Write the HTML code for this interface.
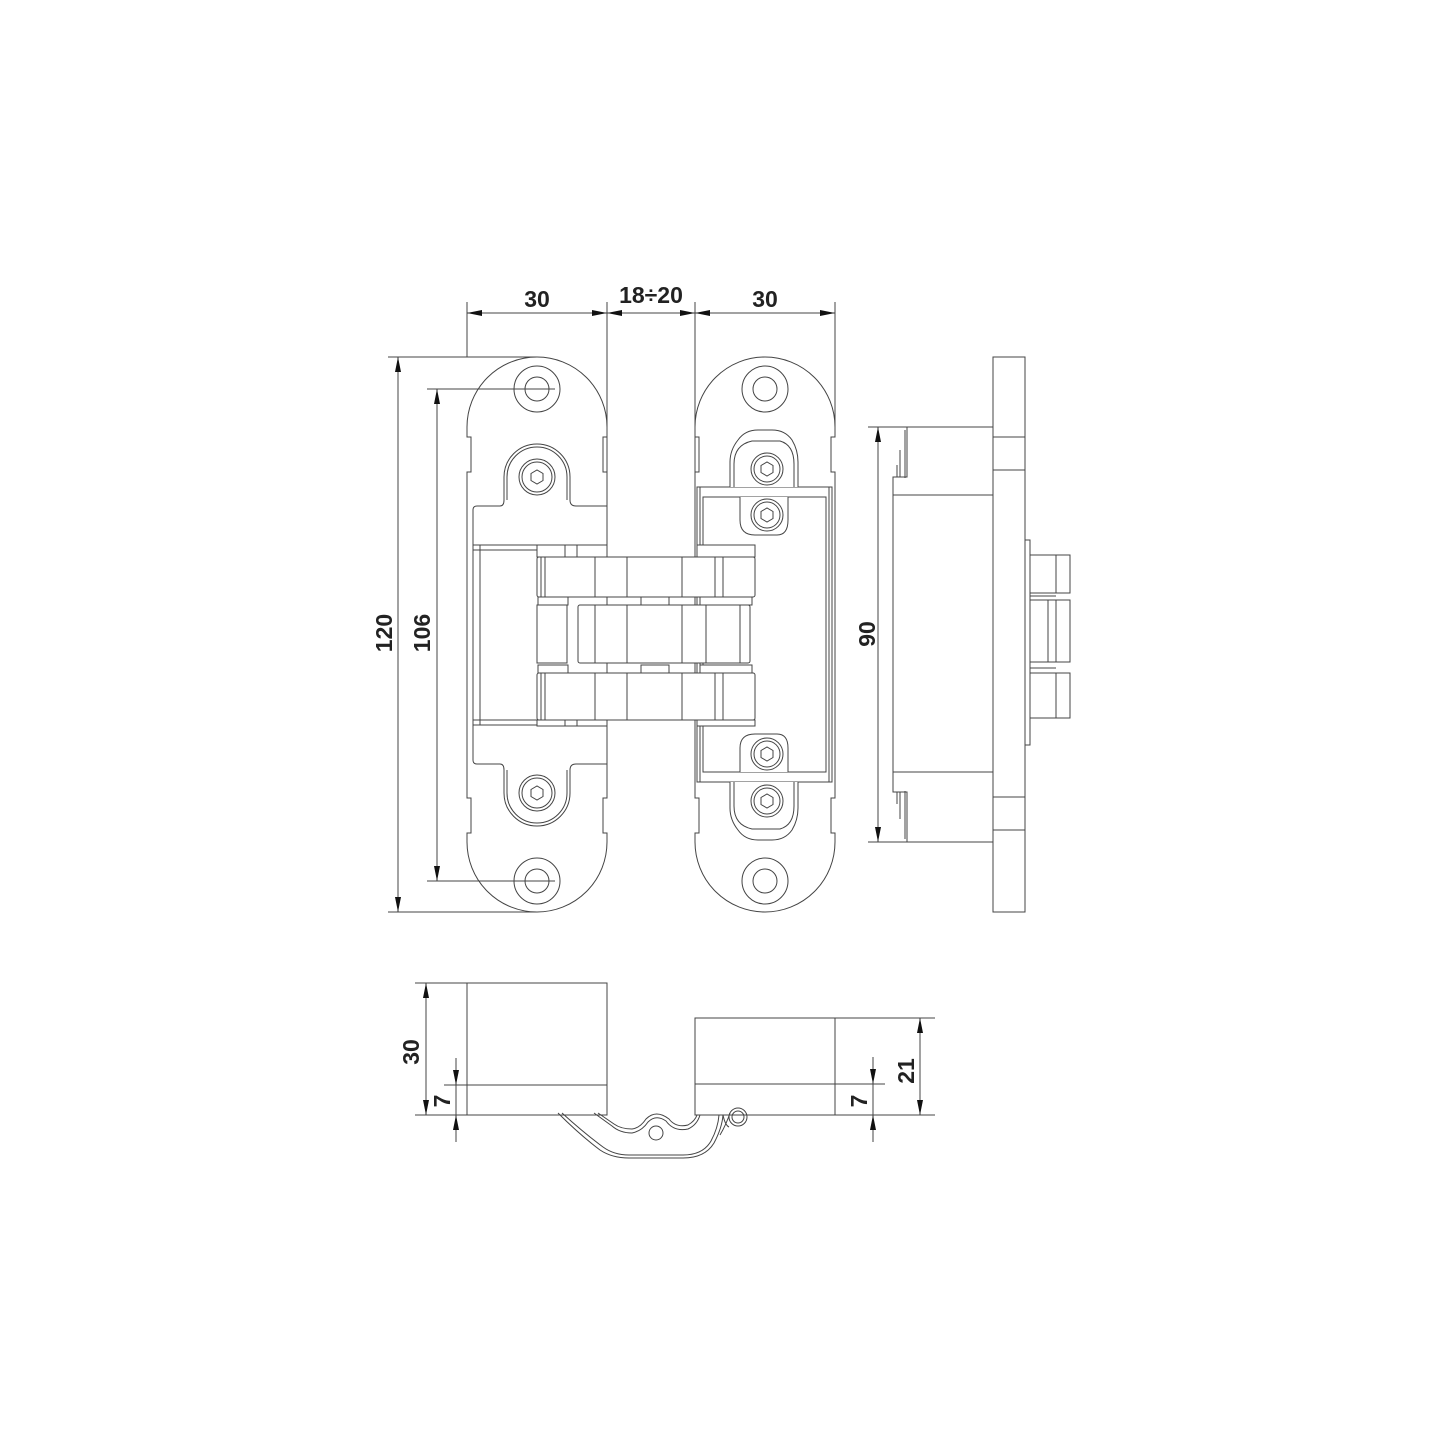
<!DOCTYPE html>
<html><head><meta charset="utf-8"><style>
html,body{margin:0;padding:0;background:#fff}
svg{display:block}
text{font-family:"Liberation Sans",sans-serif;font-weight:bold;fill:#222;font-size:23px}
</style></head><body>
<svg width="1445" height="1445" viewBox="0 0 1445 1445" xmlns="http://www.w3.org/2000/svg">
<defs>
<marker id="a" viewBox="0 0 15 6" refX="15" refY="3" markerWidth="15" markerHeight="6" markerUnits="userSpaceOnUse" orient="auto-start-reverse"><path d="M0,0L15,3L0,6Z" fill="#111"/></marker>
<g id="hex"><polygon points="-6,-3.5 0,-7 6,-3.5 6,3.5 0,7 -6,3.5" fill="none"/></g>
</defs>
<rect width="1445" height="1445" fill="#fff"/>
<g fill="none" stroke="#444" stroke-width="1">
<!-- top dimensions -->
<line x1="467" y1="302" x2="467" y2="357"/>
<line x1="607" y1="302" x2="607" y2="545"/>
<line x1="695" y1="302" x2="695" y2="487"/>
<line x1="835" y1="302" x2="835" y2="427"/>
<line x1="467" y1="313" x2="607" y2="313" marker-start="url(#a)" marker-end="url(#a)"/>
<line x1="607" y1="313" x2="695" y2="313" marker-start="url(#a)" marker-end="url(#a)"/>
<line x1="695" y1="313" x2="835" y2="313" marker-start="url(#a)" marker-end="url(#a)"/>
<!-- left dims -->
<line x1="388" y1="357" x2="537" y2="357"/>
<line x1="388" y1="912" x2="537" y2="912"/>
<line x1="427" y1="389" x2="555" y2="389"/>
<line x1="427" y1="881" x2="555" y2="881"/>
<line x1="398" y1="357" x2="398" y2="912" marker-start="url(#a)" marker-end="url(#a)"/>
<line x1="437" y1="389" x2="437" y2="881" marker-start="url(#a)" marker-end="url(#a)"/>

<!-- LEFT PLATE -->
<path d="M467,427 A70,70 0 0 1 607,427 V437 H603 V472 H607 V798 H603 V833 H607 V842 A70,70 0 0 1 467,842 V833 H471 V798 H467 V472 H471 V437 H467 Z"/>
<circle cx="537" cy="389" r="23"/><circle cx="537" cy="389" r="12"/>
<circle cx="537" cy="881" r="23"/><circle cx="537" cy="881" r="12"/>
<path d="M473,545 V510 Q473,506 477,506 H500 Q504,506 504,500 V477 A33,33 0 0 1 570,477 V500 Q570,506 576,506 H607"/>
<path d="M507,500 V477 A30,30 0 0 1 567,477 V500"/>
<circle cx="537" cy="477" r="18"/><circle cx="537" cy="477" r="15"/>
<use href="#hex" x="537" y="477"/>
<path d="M473,725 V760 Q473,764 477,764 H500 Q504,764 504,770 V793 A33,33 0 0 0 570,793 V770 Q570,764 576,764 H607"/>
<path d="M507,770 V793 A30,30 0 0 0 567,793 V770"/>
<circle cx="537" cy="793" r="18"/><circle cx="537" cy="793" r="15"/>
<use href="#hex" x="537" y="793"/>
<rect x="473" y="545" width="134" height="180"/>
<line x1="480" y1="545" x2="480" y2="725"/>
<line x1="473" y1="550" x2="537" y2="550"/>
<line x1="473" y1="720" x2="537" y2="720"/>

<!-- RIGHT PLATE -->
<path d="M695,427 A70,70 0 0 1 835,427 V437 H831 V472 H835 V798 H831 V833 H835 V842 A70,70 0 0 1 695,842 V833 H699 V798 H695 V472 H699 V437 H695 Z"/>
<circle cx="765" cy="389" r="23"/><circle cx="765" cy="389" r="12"/>
<circle cx="765" cy="881" r="23"/><circle cx="765" cy="881" r="12"/>
<rect x="697" y="487" width="135" height="295"/>
<rect x="703" y="497" width="123" height="275"/>
<line x1="700" y1="487" x2="700" y2="782"/>
<line x1="829" y1="487" x2="829" y2="782"/>
<!-- top cam -->
<path d="M730,487 V462 Q730,450 738,440 Q745,430 758,430 H772 Q785,430 792,440 Q798,450 798,462 V487" fill="#fff"/>
<path d="M734,487 V464 Q734,445 752,441 H780 Q794,445 794,464 V487"/>
<path d="M740,497 V520 Q740,535 755,535 H777 Q788,535 788,520 V497" fill="#fff"/>
<circle cx="767" cy="469" r="16" fill="#fff"/><circle cx="767" cy="469" r="13"/><use href="#hex" x="767" y="469"/>
<circle cx="767" cy="515" r="16" fill="#fff"/><circle cx="767" cy="515" r="13"/><use href="#hex" x="767" y="515"/>
<!-- bottom cam -->
<path d="M730,782 V808 Q730,820 738,830 Q745,840 758,840 H772 Q785,840 792,830 Q798,820 798,808 V782" fill="#fff"/>
<path d="M734,782 V806 Q734,825 752,829 H780 Q794,825 794,806 V782"/>
<path d="M740,772 V748 Q740,734 755,734 H777 Q788,734 788,748 V772" fill="#fff"/>
<circle cx="767" cy="754" r="16" fill="#fff"/><circle cx="767" cy="754" r="13"/><use href="#hex" x="767" y="754"/>
<circle cx="767" cy="801" r="16" fill="#fff"/><circle cx="767" cy="801" r="13"/><use href="#hex" x="767" y="801"/>

<!-- KNUCKLES -->
<rect x="537" y="545" width="70" height="12" fill="#fff"/>
<rect x="697" y="545" width="58" height="12" fill="#fff"/>
<line x1="565" y1="545" x2="565" y2="557"/><line x1="577" y1="545" x2="577" y2="557"/>
<rect x="537" y="557" width="218" height="40" rx="2" fill="#fff"/>
<rect x="541" y="557" width="4" height="40"/>
<line x1="595" y1="557" x2="595" y2="597"/><line x1="627" y1="557" x2="627" y2="597"/>
<line x1="682" y1="557" x2="682" y2="597"/><line x1="715" y1="557" x2="715" y2="597"/>
<line x1="723" y1="557" x2="723" y2="597"/>
<rect x="538" y="597" width="30" height="8" fill="#fff"/>
<rect x="641" y="597" width="28" height="8" fill="#fff"/>
<rect x="700" y="597" width="52" height="8" fill="#fff"/>
<rect x="578" y="605" width="172" height="58" rx="2" fill="#fff"/>
<rect x="537" y="605" width="30" height="58"/>
<line x1="595" y1="605" x2="595" y2="663"/><line x1="627" y1="605" x2="627" y2="663"/>
<line x1="682" y1="605" x2="682" y2="663"/><line x1="706" y1="605" x2="706" y2="663"/>
<line x1="740" y1="605" x2="740" y2="663"/>
<rect x="538" y="665" width="30" height="8" fill="#fff"/>
<rect x="641" y="665" width="28" height="8" fill="#fff"/>
<rect x="700" y="665" width="52" height="8" fill="#fff"/>
<rect x="537" y="673" width="218" height="47" rx="2" fill="#fff"/>
<rect x="541" y="673" width="4" height="47"/>
<line x1="595" y1="673" x2="595" y2="720"/><line x1="627" y1="673" x2="627" y2="720"/>
<line x1="682" y1="673" x2="682" y2="720"/><line x1="715" y1="673" x2="715" y2="720"/>
<line x1="723" y1="673" x2="723" y2="720"/>
<rect x="537" y="720" width="70" height="6" fill="#fff"/>
<rect x="697" y="720" width="58" height="6" fill="#fff"/>
<line x1="565" y1="720" x2="565" y2="726"/><line x1="577" y1="720" x2="577" y2="726"/>

<!-- SIDE VIEW -->
<line x1="868" y1="427" x2="993" y2="427"/>
<line x1="868" y1="842" x2="993" y2="842"/>
<line x1="878" y1="427" x2="878" y2="842" marker-start="url(#a)" marker-end="url(#a)"/>
<rect x="993" y="357" width="32" height="555"/>
<line x1="993" y1="437" x2="1025" y2="437"/><line x1="993" y1="470" x2="1025" y2="470"/>
<line x1="993" y1="797" x2="1025" y2="797"/><line x1="993" y1="830" x2="1025" y2="830"/>
<path d="M907,427 V477 H893 V495 H993"/>
<path d="M893,495 V772 H993"/>
<path d="M907,842 V792 H893 V772"/>
<path d="M905,430 V478 M900,450 V477 H905 M897,465 V477"/>
<path d="M905,839 V791 M900,819 V792 H905 M897,804 V792"/>
<path d="M1025,540 H1030 V745 H1025"/>
<rect x="1030" y="555" width="40" height="38"/>
<line x1="1056" y1="555" x2="1056" y2="593"/>
<rect x="1030" y="600" width="40" height="62"/>
<line x1="1048" y1="600" x2="1048" y2="662"/><line x1="1056" y1="600" x2="1056" y2="662"/>
<rect x="1030" y="673" width="40" height="45"/>
<line x1="1056" y1="673" x2="1056" y2="718"/>
<line x1="1030" y1="596" x2="1056" y2="596"/><line x1="1030" y1="668" x2="1056" y2="668"/>

<!-- BOTTOM VIEW -->
<rect x="467" y="983" width="140" height="132"/>
<line x1="444" y1="1085" x2="607" y2="1085"/>
<line x1="415" y1="983" x2="467" y2="983"/>
<line x1="415" y1="1115" x2="467" y2="1115"/>
<line x1="426" y1="983" x2="426" y2="1115" marker-start="url(#a)" marker-end="url(#a)"/>
<line x1="456" y1="1058" x2="456" y2="1085" marker-end="url(#a)"/>
<line x1="456" y1="1142" x2="456" y2="1115" marker-end="url(#a)"/>
<line x1="456" y1="1085" x2="456" y2="1115"/>
<rect x="695" y="1018" width="140" height="97"/>
<line x1="695" y1="1084" x2="885" y2="1084"/>
<line x1="835" y1="1018" x2="935" y2="1018"/>
<line x1="835" y1="1115" x2="935" y2="1115"/>
<line x1="920" y1="1018" x2="920" y2="1115" marker-start="url(#a)" marker-end="url(#a)"/>
<line x1="873" y1="1057" x2="873" y2="1084" marker-end="url(#a)"/>
<line x1="873" y1="1142" x2="873" y2="1115" marker-end="url(#a)"/>
<line x1="873" y1="1084" x2="873" y2="1115"/>
<path d="M558,1113 Q580,1135 600,1150 Q612,1158 629,1158 H683 Q705,1158 714,1143 Q722,1128 723,1115"/>
<path d="M562,1113 Q584,1133 603,1147 Q614,1155 629,1155 H683 Q703,1155 711,1141 Q718,1128 719,1115"/>
<path d="M594,1113 L612,1126 Q620,1133 632,1133 Q642,1131 648,1122 Q656,1114 666,1121 Q674,1132 688,1129 Q697,1125 700,1115"/>
<path d="M598,1113 L614,1124 Q621,1129 632,1129 Q640,1128 646,1119 Q656,1109 669,1119 Q676,1128 688,1125 Q695,1121 697,1115"/>
<circle cx="656" cy="1133" r="7"/>
<circle cx="738" cy="1117" r="9"/><circle cx="738" cy="1117" r="6"/>
<path d="M723,1115 Q725,1125 729,1127 M730,1113 Q726,1125 720,1135"/>
</g>
<!-- labels -->
<text x="537" y="307" text-anchor="middle">30</text>
<text x="651" y="303" text-anchor="middle">18÷20</text>
<text x="765" y="307" text-anchor="middle">30</text>
<text transform="translate(392,633) rotate(-90)" text-anchor="middle">120</text>
<text transform="translate(430,633) rotate(-90)" text-anchor="middle">106</text>
<text transform="translate(875,634) rotate(-90)" text-anchor="middle">90</text>
<text transform="translate(419,1052) rotate(-90)" text-anchor="middle">30</text>
<text transform="translate(450,1101) rotate(-90)" text-anchor="middle">7</text>
<text transform="translate(867,1101) rotate(-90)" text-anchor="middle">7</text>
<text transform="translate(914,1071) rotate(-90)" text-anchor="middle">21</text>
</svg>
</body></html>
